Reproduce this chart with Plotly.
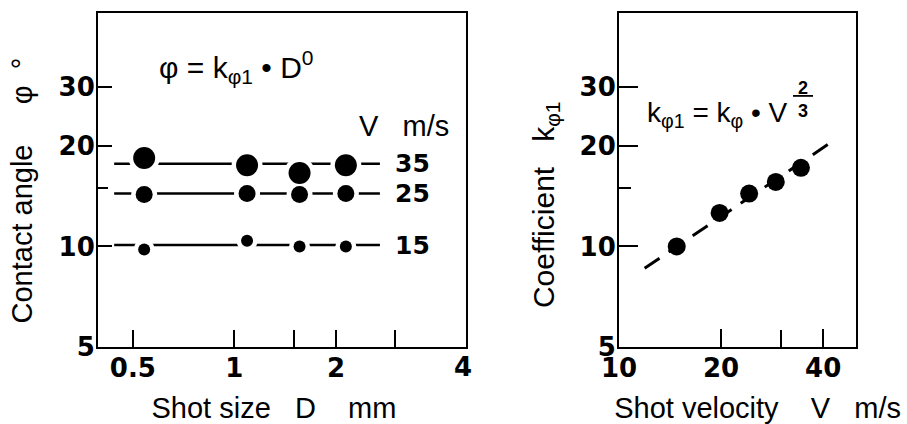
import plotly.graph_objects as go
import math

# ---------------- data ----------------
# Left panel: contact angle phi vs shot size D, for three shot velocities
shot_size = [0.54, 1.09, 1.56, 2.14]
phi_v35 = [18.4, 17.5, 16.6, 17.5]
phi_v25 = [14.3, 14.4, 14.3, 14.4]
phi_v15 = [9.8, 10.4, 10.0, 10.0]
velocity_labels = ["35", "25", "15"]
fit_d = [0.44, 2.7]             # extent of the horizontal fit lines (phi = k * D^0)
fit_phi = [17.7, 14.4, 10.1]    # fitted level per velocity

# Right panel: coefficient k_phi1 vs shot velocity V
velocity = [14.8, 19.8, 24.2, 29.0, 34.4]
k_phi1 = [10.0, 12.6, 14.4, 15.6, 17.2]
fit_v = [11.9, 42.2]
fit_k = [8.6, 20.5]

# Ticks
y_ticks = [5, 10, 20, 30]
y_minor = [15]
d_ticks = [0.5, 1, 2]
d_ticktext = ["0.5", "1", "2"]
d_minor = [1.5, 3]
d_end_label = "4"
v_ticks = [10, 20, 40]
v_minor = [30]

# ---------------- styling ----------------
TXT = "Liberation Sans"
NUM = "DejaVu Sans"
NB = "\u00a0"
ZW = "\u200b"   # keeps leading/trailing spacing from being trimmed
marker_d = [22, 17, 12]
halo = 9

fig = go.Figure()
series = [phi_v35, phi_v25, phi_v15]

# fit lines (left)
for lvl in fit_phi:
    fig.add_trace(go.Scatter(x=fit_d, y=[lvl, lvl], mode="lines",
                             line=dict(color="black", width=2.5),
                             xaxis="x", yaxis="y", showlegend=False, hoverinfo="skip"))
# white halos to break the lines around the points
for vals, d in zip(series, marker_d):
    fig.add_trace(go.Scatter(x=shot_size, y=vals, mode="markers",
                             marker=dict(color="white", size=d + halo, line=dict(width=0)),
                             xaxis="x", yaxis="y", showlegend=False, hoverinfo="skip"))
# data points
for vals, d in zip(series, marker_d):
    fig.add_trace(go.Scatter(x=shot_size, y=vals, mode="markers",
                             marker=dict(color="black", size=d, line=dict(width=0)),
                             xaxis="x", yaxis="y", showlegend=False))

# right panel
fig.add_trace(go.Scatter(x=fit_v, y=fit_k, mode="lines",
                         line=dict(color="black", width=3, dash="18px,11px"),
                         xaxis="x2", yaxis="y2", showlegend=False, hoverinfo="skip"))
fig.add_trace(go.Scatter(x=velocity, y=k_phi1, mode="markers",
                         marker=dict(color="black", size=18, line=dict(width=0)),
                         xaxis="x2", yaxis="y2", showlegend=False))

tickfont = dict(family=NUM, size=26, color="black", weight="bold")
titlefont = dict(family=TXT, size=29, color="black")

common_axis = dict(type="log", showline=True, mirror=True, linecolor="black", linewidth=2,
                   ticks="inside", tickcolor="black", tickwidth=2, showgrid=False,
                   zeroline=False, automargin=False, tickfont=tickfont, fixedrange=True)

yr = [math.log10(5), math.log10(50)]

fig.update_layout(
    width=907, height=424,
    margin=dict(l=0, r=0, t=13, b=77),
    paper_bgcolor="white", plot_bgcolor="white",
    template="none",
    xaxis=dict(common_axis, domain=[98 / 907, 466 / 907], anchor="y",
               range=[math.log10(0.394), math.log10(4.86)],
               tickmode="array", tickvals=d_ticks, ticktext=d_ticktext, ticklen=17,
               ticklabelstandoff=-3,
               minor=dict(tickmode="array", tickvals=d_minor, ticks="inside", ticklen=17,
                          tickwidth=2, tickcolor="black", showgrid=False),
               title=dict(text=ZW + "Shot size" + NB * 3 + "D" + NB * 4 + "mm" + NB * 2 + ZW,
                          font=titlefont, standoff=17)),
    yaxis=dict(common_axis, domain=[0, 1], anchor="x", range=yr,
               tickmode="array", tickvals=y_ticks, ticktext=[str(t) for t in y_ticks], ticklen=14,
               ticklabelstandoff=-4,
               minor=dict(tickmode="array", tickvals=y_minor, ticks="inside", ticklen=10,
                          tickwidth=2, tickcolor="black", showgrid=False)),
    xaxis2=dict(common_axis, domain=[619 / 907, 856 / 907], anchor="y2",
                range=[1, math.log10(50)],
                tickmode="array", tickvals=v_ticks, ticktext=[str(t) for t in v_ticks], ticklen=18,
                ticklabelstandoff=-3,
                minor=dict(tickmode="array", tickvals=v_minor, ticks="inside", ticklen=17,
                           tickwidth=2, tickcolor="black", showgrid=False),
                title=dict(text=ZW + NB * 5 + "Shot velocity" + NB * 4 + "V" + NB * 3 + "m/s" + ZW,
                           font=titlefont, standoff=17)),
    yaxis2=dict(common_axis, domain=[0, 1], anchor="x2", range=yr,
                tickmode="array", tickvals=y_ticks, ticktext=[str(t) for t in y_ticks], ticklen=19,
                ticklabelstandoff=-4,
                minor=dict(tickmode="array", tickvals=y_minor, ticks="inside", ticklen=12,
                           tickwidth=2, tickcolor="black", showgrid=False)),
)

ann = []
# y-axis titles (rotated)
ann.append(dict(text="Contact angle" + NB * 5 + "φ" + NB * 2 + "°", textangle=-90,
                x=22 / 907, y=0.4686, xref="paper", yref="paper",
                xanchor="center", yanchor="middle", showarrow=False, font=titlefont))
ann.append(dict(text="Coefficient" + NB * 3 + "k<sub>φ1</sub>", textangle=-90,
                x=545 / 907, y=0.425, xref="paper", yref="paper",
                xanchor="center", yanchor="middle", showarrow=False,
                font=dict(family=TXT, size=30, color="black")))
# left equation
ann.append(dict(text="φ = k<sub>φ1</sub> • D<sup>0</sup>", x=math.log10(0.589), y=math.log10(34.4),
                xref="x", yref="y", xanchor="left", yanchor="middle", showarrow=False,
                font=dict(family=TXT, size=30, color="black")))
ann.append(dict(text="V" + NB * 3 + "m/s", x=math.log10(2.31), y=math.log10(23.0),
                xref="x", yref="y", xanchor="left", yanchor="middle", showarrow=False,
                font=dict(family=TXT, size=29, color="black")))
for lab, lvl in zip(velocity_labels, fit_phi):
    ann.append(dict(text=lab, x=math.log10(2.955), y=math.log10(lvl),
                    xref="x", yref="y", xanchor="left", yanchor="middle", showarrow=False,
                    font=dict(family=NUM, size=25, color="black", weight="bold")))
# "4" at the right end of the shot-size axis
ann.append(dict(text=d_end_label, x=1, y=0, xref="x domain", yref="y domain",
                xanchor="center", yanchor="middle", yshift=-20, xshift=-3, showarrow=False,
                font=tickfont))
# right equation
ann.append(dict(text="k<sub>φ1</sub> = k<sub>φ</sub> • V", x=math.log10(11.93), y=math.log10(24.8),
                xref="x2", yref="y2", xanchor="left", yanchor="middle", showarrow=False,
                font=dict(family=TXT, size=28, color="black")))
ann.append(dict(text="<u>" + NB + "2" + NB + "</u><br>3", x=math.log10(34.8), y=math.log10(27.6),
                xref="x2", yref="y2", xanchor="center", yanchor="middle", showarrow=False,
                font=dict(family=TXT, size=18, color="black", weight="bold")))
fig.update_layout(annotations=ann)

fig.write_html("out.html", config={"displayModeBar": False},
               post_script="document.body.style.margin='0px';")
